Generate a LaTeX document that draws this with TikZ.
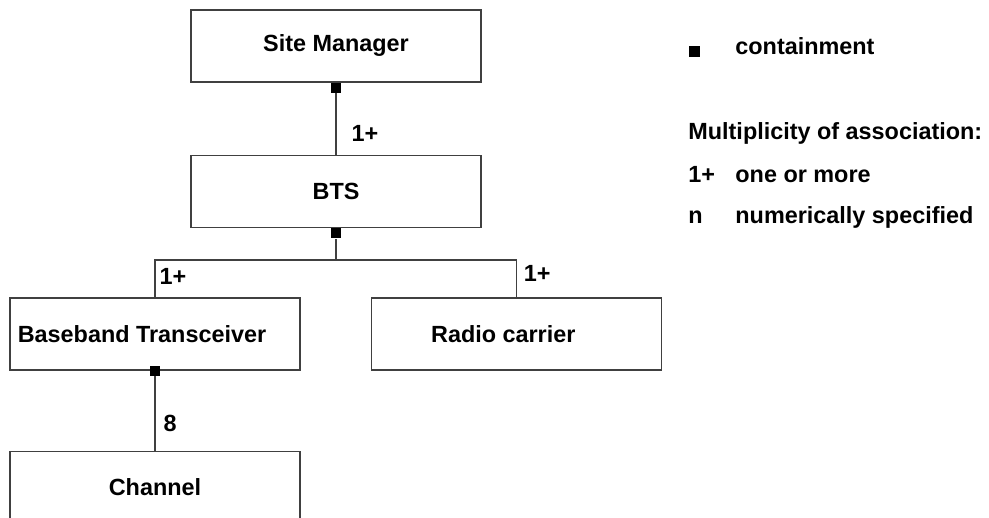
\documentclass[tikz,border=0pt]{standalone}
\usepackage{fontspec}
\setmainfont{Liberation Sans}
\usetikzlibrary{positioning}

\begin{document}
\begin{tikzpicture}[
    x=0.5pt, y=-0.5pt,
    every node/.style={font=\fontsize{11.7}{14}\selectfont\bfseries},
    box/.style={draw=black!75, line width=0.65pt, minimum width=145pt,
                minimum height=36pt, inner sep=0pt},
    cont/.style={fill=black, minimum size=5pt, inner sep=0pt},
    link/.style={draw=black!75, line width=0.65pt},
    mult/.style={inner sep=0pt},
  ]
  \clip (0,0) rectangle (989,518);

  \node[box] (sm) at (336,46) {Site Manager};
  \node[box, below=36pt of sm] (bts) {BTS};
  \node[box] (bb) at (155,334) {Baseband Transceiver\hspace*{13pt}};
  \node[box, right=35pt of bb] (rc) {Radio carrier\hspace*{13pt}};
  \node[box, below=40pt of bb] (ch) {Channel};

  \node[cont, anchor=north] (sm-c) at (sm.south) {};
  \node[cont, anchor=north] (bts-c) at (bts.south) {};
  \node[cont] (bb-c) at (bb.south) {};
  \coordinate (bts-j) at (336,260);

  \draw[link] (sm-c) -- node[mult, right=7.5pt, pos=0.66] (m1) {1+} (bts);
  \draw[link] (bts-c) -- (bts-j);
  \draw[link] (bts-j) -| node[mult, anchor=north west, pos=0.5,
    xshift=2pt, yshift=-4pt] (m2) {1+} (bb.north);
  \draw[link] (bts-j) -| node[mult, anchor=north west, pos=0.5,
    xshift=3.5pt, yshift=-2.5pt] (m3) {1+} (rc.north);
  \draw[link] (bb-c) -- node[mult, right=4pt, pos=0.64] (m4) {8} (ch);

  % legend
  \node[cont, minimum size=5.5pt] (key-c) at (694,52) {};
  \node[mult, anchor=base west] (key-t) at (735,55) {containment};
  \node[mult, anchor=base west] (key-h) at (688,140) {Multiplicity of association:};
  \node[mult, anchor=base west] (key-1) at (688,183) {1+};
  \node[mult, anchor=base west] (key-1t) at (735,183) {one or more};
  \node[mult, anchor=base west] (key-n) at (688,223) {n};
  \node[mult, anchor=base west] (key-nt) at (735,223) {numerically specified};

\end{tikzpicture}
\end{document}
